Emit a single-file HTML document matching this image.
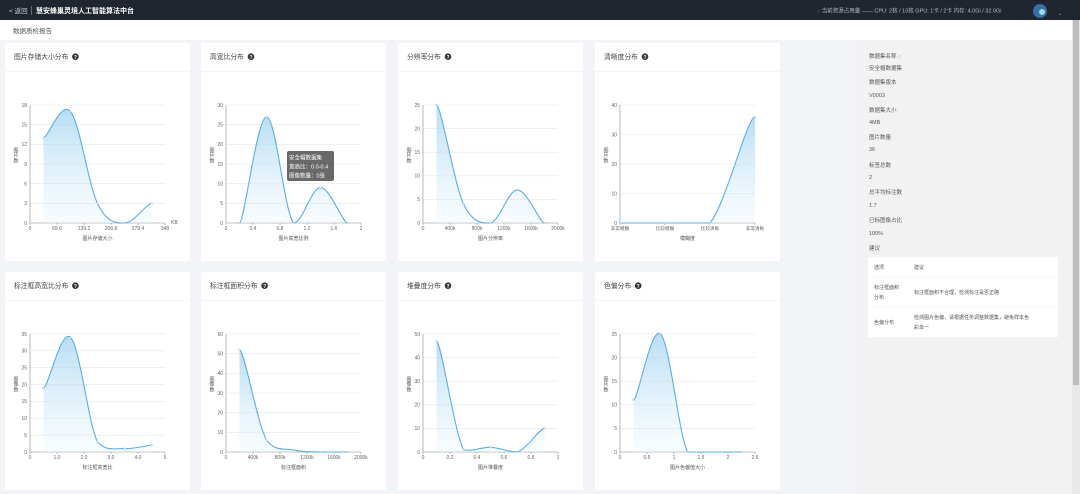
<!DOCTYPE html>
<html><head><meta charset="utf-8">
<style>
body{margin:0;width:1080px;height:494px;overflow:hidden;background:#f3f4f8;font-family:"Liberation Sans","Noto Sans CJK SC",sans-serif;}
svg{display:block}
</style></head><body>
<svg id="s" width="1080" height="494" xmlns="http://www.w3.org/2000/svg" font-family="Liberation Sans, Noto Sans CJK SC, sans-serif">
<defs><linearGradient id="g" x1="0" y1="0" x2="0" y2="1"><stop offset="0" stop-color="#9fd3f0" stop-opacity="0.75"/><stop offset="1" stop-color="#e6f4fc" stop-opacity="0.3"/></linearGradient></defs>
<rect x="0" y="0" width="1080" height="20" fill="#1f2630"/>
<text x="9" y="13" font-size="6.5" fill="#ccc">&lt; 返回</text>
<rect x="31" y="6" width="0.7" height="9" fill="#888"/>
<text x="36" y="13" font-size="7" fill="#fff" font-weight="bold">慧安蜂巢灵境人工智能算法中台</text>
<text x="817" y="12.5" font-size="5.5" fill="#bbb">◌ 当前资源占用量 —— CPU: 2核 / 10核 GPU: 1卡 / 2卡 内存: 4.0Gi / 32.0Gi</text>
<circle cx="1040" cy="11" r="7" fill="#3a6ea8"/><circle cx="1042" cy="12" r="3" fill="#9dd"/>
<text x="1058" y="15" font-size="5" fill="#aaa">⌄</text>
<rect x="0" y="20" width="1072" height="20" fill="#fff"/>
<text x="13" y="33" font-size="6.5" fill="#555">数据质检报告</text>
<rect x="857" y="40" width="215" height="454" fill="#f2f2f2"/>
<rect x="1072" y="20" width="8" height="474" fill="#e8e8e8"/>
<rect x="1073" y="20" width="6" height="365" fill="#bdbdbd"/>
<g id="cards"></g>
<g id="panel" font-size="5.5" fill="#555"></g>
<g>
<rect x="287" y="151" width="47" height="30" rx="2" fill="#5c5c5c" opacity="0.92"/>
<text x="289" y="159.5" font-size="5.5" fill="#fff">安全帽数据集</text>
<text x="289" y="168.5" font-size="5.5" fill="#fff">宽高比：0.0-0.4</text>
<text x="289" y="177.5" font-size="5.5" fill="#fff">图像数量：0张</text>
</g>
</svg>
<script>
const NS="http://www.w3.org/2000/svg";
const cards=document.getElementById('cards');
function el(t,a,txt,p){const e=document.createElementNS(NS,t);for(const k in a)e.setAttribute(k,a[k]);if(txt!=null)e.textContent=txt;(p||cards).appendChild(e);return e;}
const cols=[5,201,398,595],rows=[43,272];
const titles=["图片存储大小分布","高宽比分布","分辨率分布","清晰度分布","标注框高宽比分布","标注框面积分布","堆叠度分布","色偏分布"];
const charts=[
 {xmax:348,ticks:["0","69.6","139.2","208.8","278.4","348"],ymax:18,ys:3,yl:"图片数",xl:"图片存储大小",d:[[34.8,13],[104.4,17],[174,3],[243.6,0],[313.2,3]],unit:"KB"},
 {xmax:2,ticks:["0","0.4","0.8","1.2","1.6","2"],ymax:30,ys:5,yl:"图片数",xl:"图片高宽比例",d:[[0.2,0],[0.6,27],[1.0,0],[1.4,9],[1.8,0]]},
 {xmax:2000,ticks:["0","400k","800k","1200k","1600k","2000k"],ymax:25,ys:5,yl:"图片数",xl:"图片分辨率",d:[[200,25],[600,4],[1000,0],[1400,7],[1800,0]]},
 {xmax:3,ticks:["非常模糊","比较模糊","比较清晰","非常清晰"],cat:1,ymax:40,ys:10,yl:"图片数",xl:"模糊度",d:[[0,0],[1,0],[2,0],[3,36]]},
 {xmax:5,ticks:["0","1.0","2.0","3.0","4.0","5"],ymax:35,ys:5,yl:"图像数",xl:"标注框高宽比",d:[[0.5,19],[1.5,34],[2.5,3],[3.5,1],[4.5,2]]},
 {xmax:2000,ticks:["0","400k","800k","1200k","1600k","2000k"],ymax:60,ys:10,yl:"图像数",xl:"标注框面积",d:[[200,52],[600,6],[1000,1],[1400,0],[1800,0]]},
 {xmax:1,ticks:["0","0.2","0.4","0.6","0.8","1"],ymax:50,ys:10,yl:"图像数",xl:"图片堆叠度",d:[[0.1,47],[0.3,1],[0.5,2],[0.7,0],[0.9,10]]},
 {xmax:2.5,ticks:["0","0.5","1","1.5","2","2.5"],ymax:25,ys:5,yl:"图片数",xl:"图片色偏值大小",d:[[0.25,11],[0.75,25],[1.25,0],[1.75,0],[2.25,0]]}
];
charts.forEach((c,i)=>{
 const cx=cols[i%4],cy=rows[(i/4)|0];
 el('rect',{x:cx,y:cy,width:185,height:218,fill:'#fff',rx:1.5});
 el('text',{x:cx+9,y:cy+16,'font-size':6.8,fill:'#444'},titles[i]);
 const tw=titles[i].length*6.8;
 el('circle',{cx:cx+16+tw,cy:cy+13.7,r:3.3,fill:'#333'});
 el('text',{x:cx+16+tw,y:cy+15.8,'font-size':5,fill:'#fff','text-anchor':'middle','font-weight':'bold'},'?');
 el('rect',{x:cx,y:cy+28,width:185,height:0.6,fill:'#eee'});
 const x0=cx+25,x1=cx+160,yb=cy+180,yt=cy+62;
 const X=v=>x0+v/c.xmax*(x1-x0),Y=v=>yb-v/c.ymax*(yb-yt);
 for(let v=0;v<=c.ymax;v+=c.ys){
  el('line',{x1:x0,x2:x1,y1:Y(v),y2:Y(v),stroke:v?'#e6e6e6':'#888','stroke-width':0.6});
  el('text',{x:x0-3,y:Y(v)+1.8,'font-size':5,fill:'#666','text-anchor':'end'},String(v));
 }
 el('line',{x1:x0,x2:x0,y1:yt,y2:yb,stroke:'#888','stroke-width':0.6});
 c.ticks.forEach((t,k)=>{const v=c.cat?k:k*c.xmax/(c.ticks.length-1);
  el('line',{x1:X(v),x2:X(v),y1:yb,y2:yb+2,stroke:'#888','stroke-width':0.5});
  el('text',{x:X(v),y:yb+7,'font-size':c.cat?4.6:5,fill:'#666','text-anchor':'middle'},t);});
 if(c.unit)el('text',{x:x1+6,y:yb+1,'font-size':5,fill:'#666'},c.unit);
 el('text',{x:(x0+x1)/2,y:yb+17,'font-size':5,fill:'#555','text-anchor':'middle'},c.xl);
 const lx=x0-14,ly=(yt+yb)/2-12;
 [...c.yl].forEach((ch,k)=>el('text',{x:lx,y:ly+k*5.2,'font-size':5,fill:'#555','text-anchor':'middle'},ch));
 const P=c.d.map(p=>[X(p[0]),Y(p[1])]);
 let d=`M${P[0][0]},${P[0][1]}`;
 for(let k=0;k<P.length-1;k++){const p0=P[k-1]||P[k],p1=P[k],p2=P[k+1],p3=P[k+2]||p2,t=0.35;
  const c1=[p1[0]+(p2[0]-p0[0])*t*0.5,p1[1]+(p2[1]-p0[1])*t*0.5*(p0===p1?0:1)],c2=[p2[0]-(p3[0]-p1[0])*t*0.5,p2[1]-(p3[1]-p1[1])*t*0.5*(p3===p2?0:1)];
  c1[1]=Math.min(c1[1],yb);c2[1]=Math.min(c2[1],yb);
  d+=` C${c1[0]},${c1[1]} ${c2[0]},${c2[1]} ${p2[0]},${p2[1]}`;}
 el('path',{d:d+` L${P[P.length-1][0]},${yb} L${P[0][0]},${yb}Z`,fill:'url(#g)'});
 el('path',{d:d,fill:'none',stroke:'#5aaee6','stroke-width':1.1});
 P.forEach(p=>el('circle',{cx:p[0],cy:p[1],r:0.9,fill:'#fff',stroke:'#7cc0ec','stroke-width':0.5}));
});
const pn=document.getElementById('panel');
const items=[["数据集名称 ◌",58],["安全帽数据集",70],["数据集版本",84],["V0003",97],["数据集大小",112],["4MB",124],["图片数量",139],["36",151],["标签总数",167],["2",179],["总平均标注数",194],["1.7",207],["已标图像占比",222],["100%",235],["建议",250]];
items.forEach(t=>el('text',{x:869,y:t[1]},t[0],pn));
el('rect',{x:868,y:257,width:190,height:80,fill:'#fff'},null,pn);
el('line',{x1:868,x2:1058,y1:277,y2:277,stroke:'#eee','stroke-width':0.6},null,pn);
el('line',{x1:868,x2:1058,y1:307,y2:307,stroke:'#eee','stroke-width':0.6},null,pn);
[["选项",874,269],["建议",914,269],["标注框面积",874,289],["分布",874,299],["标注框面积不合理，检测标注是否正确",914,294],["色偏分布",874,324],["检测图片色偏，请根据任务调整数据集，避免样本色",914,319],["彩单一",914,329]].forEach(t=>el('text',{x:t[1],y:t[2],'font-size':5},t[0],pn));
</script>
</body></html>
